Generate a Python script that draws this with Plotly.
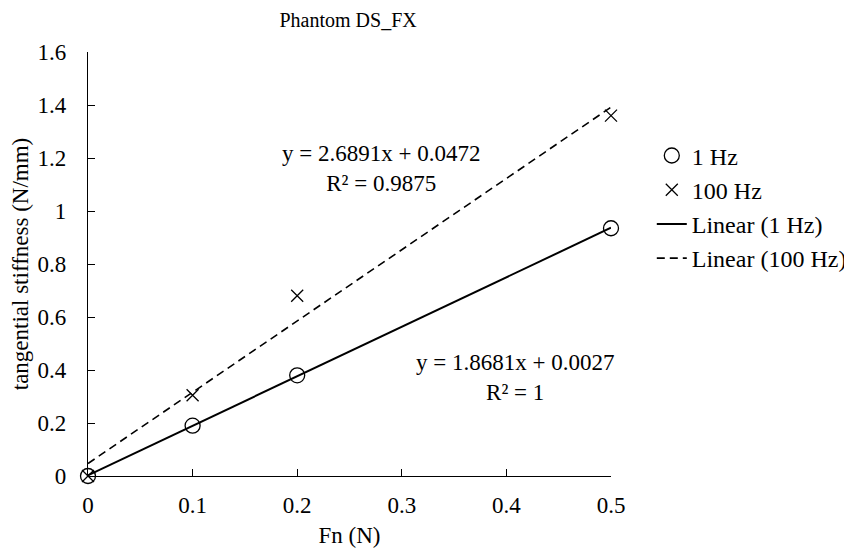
"""Phantom DS_FX tangential stiffness vs normal force."""

import plotly.graph_objects as go

# data
fn_1hz = [0.0, 0.1, 0.2, 0.5]
stiff_1hz = [0.0, 0.19, 0.38, 0.935]
fn_100hz = [0.0, 0.1, 0.2, 0.5]
stiff_100hz = [0.0, 0.305, 0.68, 1.36]

# trendline coefficients as printed on the chart
fit_1hz = (1.8681, 0.0027)
fit_100hz = (2.6891, 0.0472)
fit_x = [0.0, 0.5]

x_ticks = [0, 0.1, 0.2, 0.3, 0.4, 0.5]
y_ticks = [0, 0.2, 0.4, 0.6, 0.8, 1.0, 1.2, 1.4, 1.6]

FONT = "Liberation Serif, Times New Roman, serif"
BLACK = "#000000"
TXT = 23


def line_y(coef, xs):
    return [coef[0] * x + coef[1] for x in xs]


fig = go.Figure()
fig.add_trace(
    go.Scatter(
        x=fn_1hz,
        y=stiff_1hz,
        mode="markers",
        name="1 Hz",
        cliponaxis=False,
        marker=dict(symbol="circle-open", size=15, color=BLACK, line=dict(width=1.3, color=BLACK)),
    )
)
fig.add_trace(
    go.Scatter(
        x=fn_100hz,
        y=stiff_100hz,
        mode="markers",
        name="100 Hz",
        cliponaxis=False,
        marker=dict(symbol="x-thin-open", size=12, color=BLACK, line=dict(width=1.3, color=BLACK)),
    )
)
fig.add_trace(
    go.Scatter(
        x=fit_x,
        y=line_y(fit_1hz, fit_x),
        mode="lines",
        name="Linear (1 Hz)",
        cliponaxis=False,
        line=dict(color=BLACK, width=2),
    )
)
fig.add_trace(
    go.Scatter(
        x=fit_x,
        y=line_y(fit_100hz, fit_x),
        mode="lines",
        name="Linear (100 Hz)",
        cliponaxis=False,
        line=dict(color=BLACK, width=1.6, dash="8px,5px"),
    )
)

fig.add_annotation(
    x=0.280, y=1.162, xref="x", yref="y",
    text=f"y = {fit_100hz[0]}x + {fit_100hz[1]}<br>R² = 0.9875",
    showarrow=False, align="center", font=dict(size=TXT, color=BLACK, family=FONT),
)
fig.add_annotation(
    x=0.408, y=0.37, xref="x", yref="y",
    text=f"y = {fit_1hz[0]}x + {fit_1hz[1]}<br>R² = 1",
    showarrow=False, align="center", font=dict(size=TXT, color=BLACK, family=FONT),
)

# the html page has an 8px body margin, so the figure is 8px smaller than the window
fig.update_layout(
    width=844,
    height=543,
    title=dict(text="Phantom DS_FX", x=0.403, xanchor="center", y=0.99, yanchor="top",
               pad=dict(t=0, b=0), font=dict(size=20, color=BLACK, family=FONT)),
    template="plotly_white",
    plot_bgcolor="#ffffff",
    paper_bgcolor="#ffffff",
    margin=dict(l=80, r=241, t=44, b=75, autoexpand=False),
    font=dict(family=FONT, size=TXT, color=BLACK),
    legend=dict(x=1.078, y=0.808, xanchor="left", yanchor="top",
                font=dict(size=24, color=BLACK, family=FONT),
                bgcolor="rgba(0,0,0,0)", tracegroupgap=0),
)
fig.update_xaxes(
    range=[0, 0.5], tickvals=x_ticks, ticktext=[f"{v:g}" for v in x_ticks],
    showgrid=False, zeroline=False, showline=True, linecolor=BLACK, linewidth=1.3,
    ticks="inside", ticklen=7, tickcolor=BLACK, tickwidth=1.3,
    tickfont=dict(size=TXT, color=BLACK, family=FONT), ticklabelstandoff=8,
    automargin=False,
    title=dict(text="Fn (N)", font=dict(size=TXT, color=BLACK, family=FONT), standoff=10),
)
fig.update_yaxes(
    range=[0, 1.6], tickvals=y_ticks, ticktext=[f"{v:g}" for v in y_ticks],
    showgrid=False, zeroline=False, showline=True, linecolor=BLACK, linewidth=1.3,
    ticks="inside", ticklen=7, tickcolor=BLACK, tickwidth=1.3,
    tickfont=dict(size=TXT, color=BLACK, family=FONT), ticklabelstandoff=16,
    automargin=False,
    title=dict(text="tangential stiffness (N/mm)", font=dict(size=TXT, color=BLACK, family=FONT),
               standoff=3),
)

fig.write_html("out.html")
